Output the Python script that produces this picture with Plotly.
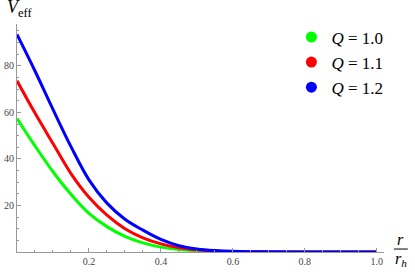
import plotly.graph_objects as go

x_vals = [0.0, 0.05, 0.1, 0.15, 0.2, 0.25, 0.3, 0.35, 0.4, 0.45, 0.5, 0.55, 0.6, 0.65, 0.7, 0.8, 0.9, 1.0]
v_q10 = [57.4, 45.6, 34.5, 24.8, 16.6, 10.9, 6.7, 3.9, 2.1, 1.1, 0.55, 0.27, 0.13, 0.06, 0.025, 0.0, 0.0, 0.0]
v_q11 = [73.6, 59.7, 46.6, 33.7, 23.5, 15.8, 10.0, 6.1, 3.5, 1.83, 0.91, 0.43, 0.2, 0.09, 0.04, 0.0, 0.0, 0.0]
v_q12 = [93.5, 77.8, 61.3, 45.3, 31.0, 21.0, 14.1, 9.4, 5.4, 2.7, 1.3, 0.6, 0.28, 0.13, 0.06, 0.0, 0.0, 0.0]
labels = ["<i>Q</i> = 1.0", "<i>Q</i> = 1.1", "<i>Q</i> = 1.2"]
colors = ["#00FF00", "#FF0000", "#0000FF"]
x_ticks = [0.2, 0.4, 0.6, 0.8, 1.0]
x_tick_text = ["0.2", "0.4", "0.6", "0.8", "1.0"]
y_ticks = [20, 40, 60, 80]

serif = "Liberation Serif, Times New Roman, DejaVu Serif, serif"

fig = go.Figure()
for ys, c in zip([v_q10, v_q11, v_q12], colors):
    fig.add_trace(go.Scatter(x=x_vals, y=ys, mode="lines", line=dict(color=c, width=3, shape="spline", smoothing=1.0),
                             showlegend=False, hoverinfo="skip"))
for lab, c in zip(labels, colors):
    fig.add_trace(go.Scatter(x=[None], y=[None], mode="markers", marker=dict(color=c, size=11), name=lab))

axis_common = dict(showgrid=False, zeroline=False, showline=True, linecolor="#999999", linewidth=1,
                   ticks="inside", ticklen=4, tickcolor="#999999", tickwidth=1,
                   tickfont=dict(family=serif, size=10, color="#444444"))
fig.update_layout(
    width=415, height=275,
    margin=dict(l=17, r=31, t=24, b=23, autoexpand=False),
    plot_bgcolor="white", paper_bgcolor="white",
    xaxis=dict(range=[0, 1.02], tickvals=x_ticks, ticktext=x_tick_text,
               minor=dict(dtick=0.05, ticklen=2, tickcolor="#999999", ticks="inside"), **axis_common),
    yaxis=dict(range=[0, 98], tickvals=y_ticks,
               minor=dict(dtick=5, ticklen=2, tickcolor="#999999", ticks="inside"), **axis_common),
    legend=dict(x=1.012, y=1.02, xanchor="right", yanchor="top", bgcolor="rgba(0,0,0,0)",
                font=dict(family=serif, size=17, color="black"), itemwidth=30, tracegroupgap=0),
    showlegend=True,
    hovermode=False,
)
fig.add_annotation(xref="paper", yref="paper", x=-0.033, y=1.0, yshift=2, xanchor="left", yanchor="bottom",
                   text="<i>V</i><sub>eff</sub>", showarrow=False, font=dict(family=serif, size=18, color="black"))
fig.add_annotation(xref="paper", yref="paper", x=1.046, y=0.013, yshift=-1, xanchor="center", yanchor="bottom",
                   text="<i>r</i>", showarrow=False, font=dict(family=serif, size=16, color="black"))
fig.add_annotation(xref="paper", yref="paper", x=1.046, y=0.013, yshift=1, xanchor="center", yanchor="top",
                   text="<i>r<sub>h</sub></i>", showarrow=False, font=dict(family=serif, size=16, color="black"))
fig.add_shape(type="line", xref="paper", yref="paper", x0=1.027, x1=1.065, y0=0.013, y1=0.013,
              line=dict(color="black", width=1))
fig.write_html("out.html", config={"displayModeBar": False},
               post_script="document.body.style.margin='0';")
